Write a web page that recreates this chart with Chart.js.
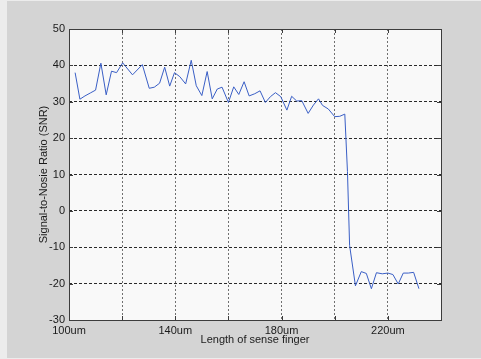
<!DOCTYPE html>
<html>
<head>
<meta charset="utf-8">
<script src="https://cdn.jsdelivr.net/npm/chart.js@4.4.1/dist/chart.umd.min.js"></script>
<style>
  html, body { margin: 0; padding: 0; background: #ececec; width: 481px; height: 359px; overflow: hidden; }
  #wrap { position: absolute; left: 7px; top: 1px; width: 474px; height: 357px; background: #d4d4d4; }
</style>
</head>
<body>
<div id="wrap"><canvas id="snr" width="474" height="357"></canvas></div>
<script>
const fingerLength = [
  102.3, 104.1, 106.0, 108.0, 110.0, 112.0, 114.0, 116.0, 117.9, 120.2,
  123.9, 127.6, 130.2, 132.1, 134.1, 136.0, 137.9, 139.7, 141.7, 143.9,
  146.0, 147.9, 150.0, 152.0, 153.9, 155.8, 157.6, 160.0, 162.0, 163.9,
  165.9, 167.8, 169.9, 171.9, 173.9, 175.8, 177.7, 179.7, 182.0, 183.8,
  185.7, 187.6, 190.0, 192.0, 193.9, 195.4, 197.6, 200.0, 201.9, 203.8,
  204.8, 205.6, 207.8, 210.0, 211.9, 213.8, 215.7, 217.9, 220.0, 221.9,
  223.9, 225.8, 227.7, 229.7, 231.7
];
const snrValues = [
  38.0, 30.7, 31.6, 32.4, 33.2, 40.6, 31.9, 38.4, 38.0, 40.7,
  37.4, 40.2, 33.7, 34.0, 35.1, 39.5, 34.3, 38.0, 36.9, 34.9,
  41.4, 34.4, 31.7, 38.3, 30.8, 33.5, 34.0, 29.8, 34.1, 32.0,
  35.5, 31.6, 32.2, 33.0, 29.8, 31.4, 32.5, 31.4, 27.7, 31.5,
  30.2, 30.3, 26.8, 29.1, 30.8, 29.0, 28.0, 25.9, 26.0, 26.6,
  10.8, -9.5, -20.6, -16.7, -17.2, -21.4, -17.0, -17.3, -17.1, -17.5,
  -20.1, -17.1, -17.1, -16.9, -21.4
];
const xLabelled = [100, 140, 180, 220];

const font = { family: "'Liberation Sans', Arial, sans-serif", size: 11 };

// plot background, box and inward tick marks (matlab look)
const frame = {
  id: 'frame',
  beforeDraw(chart) {
    const { ctx, chartArea: a } = chart;
    ctx.save();
    ctx.fillStyle = '#f9f9f9';
    ctx.fillRect(a.left, a.top, a.right - a.left, a.bottom - a.top);
    ctx.restore();
  },
  afterDraw(chart) {
    const { ctx, chartArea: a, scales } = chart;
    ctx.save();
    ctx.strokeStyle = '#3c3c3c';
    ctx.lineWidth = 1;
    ctx.strokeRect(Math.round(a.left) + 0.5, Math.round(a.top) + 0.5,
      Math.round(a.right - a.left), Math.round(a.bottom - a.top));
    ctx.beginPath();
    scales.x.ticks.forEach(t => {
      const px = Math.round(scales.x.getPixelForValue(t.value)) + 0.5;
      ctx.moveTo(px, a.bottom); ctx.lineTo(px, a.bottom - 4);
      ctx.moveTo(px, a.top); ctx.lineTo(px, a.top + 4);
    });
    scales.y.ticks.forEach(t => {
      const py = Math.round(scales.y.getPixelForValue(t.value)) + 0.5;
      ctx.moveTo(a.left, py); ctx.lineTo(a.left + 4, py);
      ctx.moveTo(a.right, py); ctx.lineTo(a.right - 4, py);
    });
    ctx.stroke();
    ctx.restore();
  }
};

new Chart(document.getElementById('snr').getContext('2d'), {
  type: 'line',
  data: {
    datasets: [{
      data: fingerLength.map((x, i) => ({ x: x, y: snrValues[i] })),
      borderColor: '#3a5fc6',
      borderWidth: 1,
      pointRadius: 0,
      tension: 0,
      fill: false
    }]
  },
  options: {
    responsive: false,
    animation: false,
    devicePixelRatio: 1,
    layout: { padding: { left: 0, right: 40, top: 28, bottom: 0 } },
    plugins: { legend: { display: false }, tooltip: { enabled: false } },
    scales: {
      x: {
        type: 'linear',
        min: 100, max: 240,
        afterFit: s => { s.height = 38; },
        border: { display: false, dash: [2, 2] },
        grid: { color: '#707070', drawTicks: false },
        ticks: {
          stepSize: 20, autoSkip: false, maxRotation: 0, padding: 4,
          color: '#1a1a1a', font: font,
          callback: v => xLabelled.includes(v) ? v + 'um' : ''
        },
        title: { display: true, text: 'Length of sense finger', color: '#1a1a1a', font: font, padding: { top: 0, bottom: 11 } }
      },
      y: {
        min: -30, max: 50,
        afterFit: s => { s.width = 62; },
        border: { display: false, dash: [3, 2] },
        grid: { color: '#2a2a2a', drawTicks: false },
        ticks: { stepSize: 10, padding: 4, color: '#1a1a1a', font: font },
        title: { display: true, text: 'Signal-to-Nosie Ratio (SNR)', color: '#1a1a1a', font: font, padding: { top: 30, bottom: 0 } }
      }
    }
  },
  plugins: [frame]
});
</script>
</body>
</html>
